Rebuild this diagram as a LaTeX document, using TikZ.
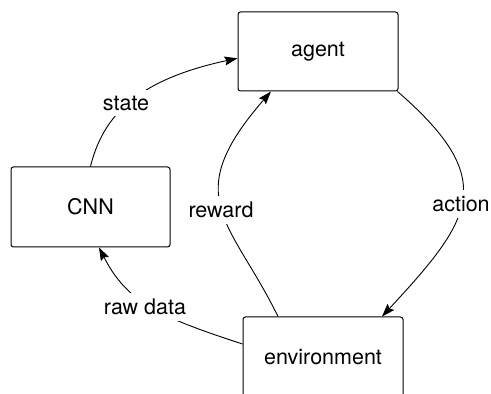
\documentclass[tikz,border=0pt]{standalone}
\usepackage{fontspec}
\setmainfont{TeX Gyre Heros}
\usetikzlibrary{arrows.meta}
\begin{document}
\begin{tikzpicture}[x=1pt,y=1pt,
  box/.style={draw=black,line width=1pt,rounded corners=2.5pt,fill=white,inner sep=0pt,
    font=\fontsize{21.5}{25}\selectfont},
  conn/.style={draw=black,line width=0.9pt,-{Stealth[length=13pt,width=9pt,inset=2pt]}},
  lbl/.style={fill=white,inner xsep=3pt,inner ysep=6pt,font=\fontsize{21.5}{25}\selectfont}]
\useasboundingbox (0,0) rectangle (491,394);
\node[box,minimum width=160pt,minimum height=79pt] (agent) at (318,342.5) {agent};
\node[box,minimum width=159pt,minimum height=80pt] (cnn) at (90.5,187) {CNN};
\node[box,minimum width=160pt,minimum height=80pt] (env) at (323,37) {environment};
% state
\draw[conn] (cnn.north) .. controls (102.8,278.1) and (137.3,314.3) .. ([yshift=-6.8pt]agent.west);
% reward
\draw[conn] ([xshift=-45pt]env.north) .. controls (231,173.5) and (178,196) .. ([xshift=-47pt]agent.south);
% action
\draw[conn] ([xshift=-1pt]agent.south east) .. controls (499,214.4) and (473.4,176) .. ([xshift=59pt]env.north);
% raw data
\draw[conn] ([yshift=13pt]env.west) .. controls (158.8,77.3) and (127.2,91.7) .. ([xshift=8.5pt]cnn.south);
\node[lbl] (lstate) at (126,291) {state};
\node[lbl] (lreward) at (221,184) {reward};
\node[lbl] (laction) at (461,190) {action};
\node[lbl] (lraw) at (145,87) {raw data};
\end{tikzpicture}
\end{document}
